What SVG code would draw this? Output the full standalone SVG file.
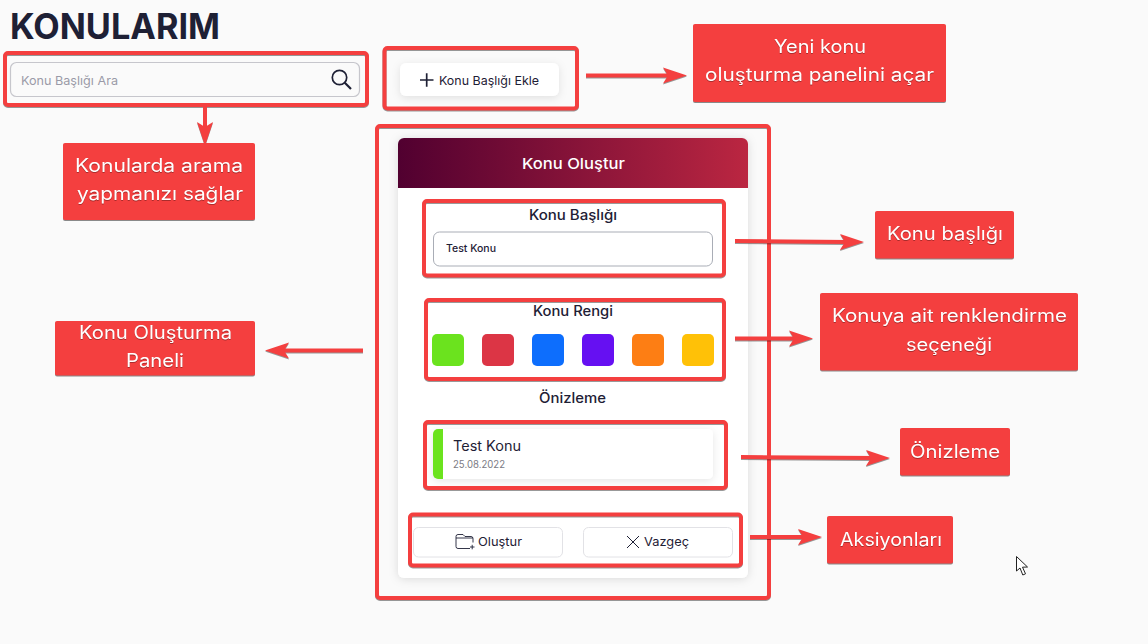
<svg xmlns="http://www.w3.org/2000/svg" width="1148" height="644" viewBox="0 0 1148 644">
<style>
text{font-family:"Inter","Noto Sans","Liberation Sans",sans-serif;fill:#1e2035}
.hl{fill:none;stroke:#f43f3f;stroke-width:4;filter:drop-shadow(0 1px .5px rgba(0,0,0,.4))}
.box{fill:#f43f3f;filter:drop-shadow(0 1px .5px rgba(0,0,0,.45))}
.lb{fill:#fff;font-size:18px;text-anchor:middle;filter:drop-shadow(0 1px .5px rgba(0,0,0,.3))}
.ar{stroke:#f43f3f;stroke-width:4;fill:none}
.hd{fill:#f43f3f}
#connectors{filter:drop-shadow(0 1px .5px rgba(0,0,0,.4))}
.h{font-size:14px;font-weight:500;text-anchor:middle}
.sw{rx:5px}
.btn{fill:#fff;stroke:#e2e2e6;stroke-width:1}
.ic{fill:none;stroke:#1e2035}
</style>
<defs>
<linearGradient id="hg" x1="0" x2="1" y1="0" y2="0"><stop offset="0" stop-color="#510030"/><stop offset="1" stop-color="#bb2641"/></linearGradient>
<filter id="sh" x="-10%" y="-10%" width="120%" height="120%"><feDropShadow dx="0" dy="1" stdDeviation="5" flood-color="#000" flood-opacity=".13"/></filter>
<filter id="sm" x="-10%" y="-30%" width="120%" height="160%"><feDropShadow dx="0" dy="2" stdDeviation="4" flood-color="#000" flood-opacity=".1"/></filter>
<marker id="ah" markerUnits="userSpaceOnUse" markerWidth="26" markerHeight="18" refX="10" refY="9" orient="auto"><path class="hd" d="M0 1L24 9L0 17L5 9Z"/></marker>
</defs>
<rect width="1148" height="644" fill="#fafafa"/>
<g id="title"><text x="10" y="39" font-size="35" font-weight="700" textLength="210" lengthAdjust="spacingAndGlyphs">KONULARIM</text></g>
<g id="search">
<rect x="10.5" y="62.5" width="349" height="34" rx="6" fill="#fafafa" stroke="#c6c6cc" stroke-width="1.2"/>
<text x="21" y="85" font-size="12" style="fill:#9a9aa8" textLength="97" lengthAdjust="spacingAndGlyphs">Konu Başlığı Ara</text>
<circle cx="339.5" cy="77.5" r="7.2" class="ic" style="stroke-width:1.7"/><path class="ic" style="stroke-width:2.2" d="M344.8 82.8L351 89"/>
<rect class="hl" x="5" y="53" width="362" height="52" rx="3"/>
</g>
<g id="add-button">
<rect x="400" y="63" width="159" height="33" rx="6" fill="#fff" filter="url(#sm)"/>
<path class="ic" style="stroke-width:1.7" d="M420 80H433.5M426.7 73.3V86.7"/>
<text x="439" y="85" font-size="12" textLength="100" lengthAdjust="spacingAndGlyphs">Konu Başlığı Ekle</text>
<rect class="hl" x="384.500" y="48" width="192.500" height="60.500" rx="3"/>
</g>
<g id="panel">
<rect x="398" y="138" width="350" height="440" rx="6" fill="#fff" filter="url(#sh)"/>
<path d="M398 188V144a6 6 0 0 1 6-6H742a6 6 0 0 1 6 6V188Z" fill="url(#hg)"/>
<text x="573.500" y="169" font-size="15" font-weight="500" text-anchor="middle" style="fill:#fff" textLength="103" lengthAdjust="spacingAndGlyphs">Konu Oluştur</text>
<rect class="hl" x="377" y="126" width="392" height="472" rx="3"/>
</g>
<g id="field-title">
<text class="h" x="573" y="220" textLength="88" lengthAdjust="spacingAndGlyphs">Konu Başlığı</text>
<rect x="433.500" y="232" width="279" height="34" rx="6" fill="#fff" stroke="#a9adb6" stroke-width="1"/>
<text x="446" y="252" font-size="10" font-weight="500" textLength="50" lengthAdjust="spacingAndGlyphs">Test Konu</text>
<rect class="hl" x="424" y="201" width="300" height="74.500" rx="3"/>
</g>
<g id="field-color">
<text class="h" x="573" y="316" textLength="80" lengthAdjust="spacingAndGlyphs">Konu Rengi</text>
<rect class="sw" x="432" y="334" width="32" height="32" fill="#6be31e"/>
<rect class="sw" x="482" y="334" width="32" height="32" fill="#dc3545"/>
<rect class="sw" x="532" y="334" width="32" height="32" fill="#0d6efd"/>
<rect class="sw" x="582" y="334" width="32" height="32" fill="#6610f2"/>
<rect class="sw" x="632" y="334" width="32" height="32" fill="#fd7e14"/>
<rect class="sw" x="682" y="334" width="32" height="32" fill="#ffc107"/>
<rect class="hl" x="426" y="300" width="298" height="79" rx="3"/>
</g>
<g id="preview">
<text class="h" x="572.500" y="403" textLength="67" lengthAdjust="spacingAndGlyphs">Önizleme</text>
<rect x="433" y="429" width="280" height="50" rx="5" fill="#fff" filter="url(#sm)"/>
<path d="M443 429V479H438a5 5 0 0 1-5-5V434a5 5 0 0 1 5-5Z" fill="#6be31e"/>
<text x="453" y="451" font-size="14" font-weight="400" textLength="68" lengthAdjust="spacingAndGlyphs">Test Konu</text>
<text x="453" y="468" font-size="10" style="fill:#7b7b84" textLength="52" lengthAdjust="spacingAndGlyphs">25.08.2022</text>
<rect class="hl" x="425" y="422" width="301" height="66" rx="3"/>
</g>
<g id="actions">
<rect class="btn" x="413.500" y="527.500" width="149" height="29.500" rx="5"/>
<rect class="btn" x="583.500" y="527.500" width="149" height="29.500" rx="5"/>
<path class="ic" style="stroke-width:.9" d="M470 548.500H458a2 2 0 0 1-2-2V536.500a2 2 0 0 1 2-2h5l2 2h6a2 2 0 0 1 2 2v4M456 538H473"/>
<path class="ic" style="stroke-width:.9" d="M470 547h4.500M472.200 544.800v4.500"/>
<text x="478" y="546" font-size="12" font-weight="400" textLength="44" lengthAdjust="spacingAndGlyphs">Oluştur</text>
<path class="ic" style="stroke-width:1" d="M627 536L639 548M639 536L627 548"/>
<text x="644" y="546" font-size="12" font-weight="400" textLength="45" lengthAdjust="spacingAndGlyphs">Vazgeç</text>
<rect class="hl" x="410" y="514.500" width="331" height="51" rx="3"/>
</g>
<g id="connectors">
<path class="ar" d="M205 107V132" marker-end="url(#ah)"/>
<path class="ar" d="M586 75.500H673" marker-end="url(#ah)"/>
<path class="ar" d="M735 241L850 242" marker-end="url(#ah)"/>
<path class="ar" d="M735 338.500H799" marker-end="url(#ah)"/>
<path class="ar" d="M741 457L876 458" marker-end="url(#ah)"/>
<path class="ar" d="M750 537H808" marker-end="url(#ah)"/>
<path class="ar" d="M363 350.500H279" marker-end="url(#ah)"/>
</g>
<g id="note-search"><rect class="box" x="63" y="143" width="192" height="77" rx="2"/>
<text class="lb" x="159" y="172" textLength="168" lengthAdjust="spacingAndGlyphs">Konularda arama</text>
<text class="lb" x="160" y="200" textLength="166" lengthAdjust="spacingAndGlyphs">yapmanızı sağlar</text></g>
<g id="note-add"><rect class="box" x="693" y="24" width="253" height="78" rx="2"/>
<text class="lb" x="820" y="53" textLength="92" lengthAdjust="spacingAndGlyphs">Yeni konu</text>
<text class="lb" x="819.500" y="81" textLength="229" lengthAdjust="spacingAndGlyphs">oluşturma panelini açar</text></g>
<g id="note-title"><rect class="box" x="875" y="211" width="139" height="47.500" rx="2"/>
<text class="lb" x="945" y="240" textLength="116" lengthAdjust="spacingAndGlyphs">Konu başlığı</text></g>
<g id="note-color"><rect class="box" x="820" y="293" width="258" height="77.500" rx="2"/>
<text class="lb" x="949.500" y="322" textLength="235" lengthAdjust="spacingAndGlyphs">Konuya ait renklendirme</text>
<text class="lb" x="949" y="351" textLength="86" lengthAdjust="spacingAndGlyphs">seçeneği</text></g>
<g id="note-preview"><rect class="box" x="900" y="428" width="110" height="47.500" rx="2"/>
<text class="lb" x="955" y="458" textLength="90" lengthAdjust="spacingAndGlyphs">Önizleme</text></g>
<g id="note-actions"><rect class="box" x="827" y="516" width="126" height="47.500" rx="2"/>
<text class="lb" x="891" y="546" textLength="102" lengthAdjust="spacingAndGlyphs">Aksiyonları</text></g>
<g id="note-panel"><rect class="box" x="55" y="321" width="200" height="54.500" rx="2"/>
<text class="lb" x="155.500" y="339" textLength="153" lengthAdjust="spacingAndGlyphs">Konu Oluşturma</text>
<text class="lb" x="155" y="367" textLength="58" lengthAdjust="spacingAndGlyphs">Paneli</text></g>
<path d="M1016.500 556.500V571L1020 568L1022.800 575L1025.500 573.800L1022.500 567.200L1027.500 567Z" fill="#fff" stroke="#222" stroke-width="1"/>
</svg>
